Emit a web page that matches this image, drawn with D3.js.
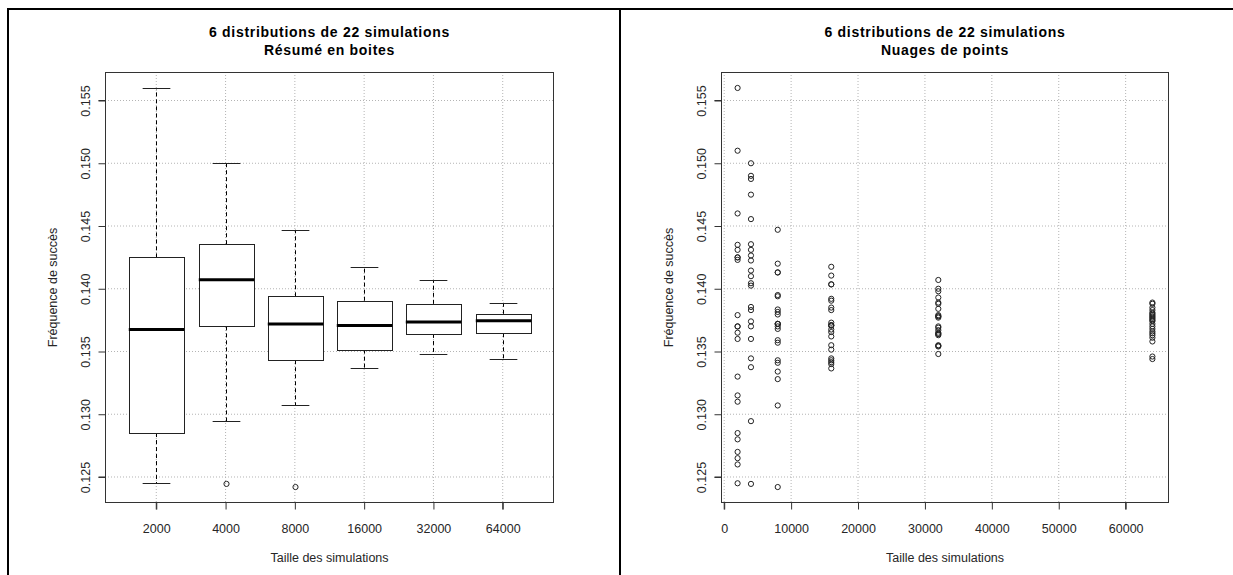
<!DOCTYPE html>
<html><head><meta charset="utf-8">
<script src="https://cdn.jsdelivr.net/npm/d3@7"></script>
<style>
html,body{margin:0;padding:0;background:#fff;}
text{font-family:"Liberation Sans",Arial,sans-serif;}
</style></head>
<body><svg id="c" width="1233" height="575"></svg>
<script>
// ---- data ----
const sizes = [2000, 4000, 8000, 16000, 32000, 64000];
const sizeLabels = ["2000", "4000", "8000", "16000", "32000", "64000"];
const sim2000 = [0.1560, 0.1510, 0.1460, 0.1435, 0.1431, 0.1425, 0.1425, 0.1423, 0.1379, 0.1370, 0.1370, 0.1365, 0.1360, 0.1330, 0.1315, 0.1310, 0.1285, 0.1280, 0.1270, 0.1265, 0.1260, 0.1245];
const sim4000 = [0.1500, 0.1490, 0.14875, 0.1475, 0.14555, 0.14355, 0.1431, 0.14265, 0.14225, 0.14145, 0.1410, 0.14044, 0.14025, 0.13855, 0.1383, 0.1374, 0.1370, 0.1360, 0.13445, 0.13375, 0.12945, 0.12445];
const sim8000 = [0.1447, 0.1420, 0.1413, 0.1413, 0.1395, 0.1394, 0.13835, 0.13815, 0.13795, 0.1372, 0.1372, 0.1372, 0.1370, 0.1368, 0.1359, 0.1357, 0.1343, 0.1341, 0.1334, 0.1328, 0.1307, 0.1242];
const sim16000 = [0.14175, 0.14105, 0.14035, 0.14035, 0.1392, 0.13905, 0.1385, 0.1383, 0.1373, 0.1371, 0.1371, 0.13705, 0.13675, 0.13655, 0.1362, 0.1355, 0.13515, 0.13445, 0.1343, 0.13415, 0.1340, 0.13365];
const sim32000 = [0.1407, 0.1400, 0.1398, 0.1393, 0.1389, 0.1388, 0.1384, 0.1379, 0.1378, 0.1378, 0.1377, 0.1370, 0.1369, 0.1367, 0.1365, 0.1364, 0.1364, 0.1363, 0.1355, 0.13545, 0.1354, 0.1348];
const sim64000 = [0.1389, 0.1388, 0.1385, 0.1383, 0.1381, 0.1380, 0.1379, 0.1378, 0.1377, 0.1376, 0.1375, 0.13742, 0.1372, 0.1370, 0.1368, 0.1366, 0.13645, 0.1363, 0.1361, 0.1358, 0.1346, 0.1344];
const series = [sim2000, sim4000, sim8000, sim16000, sim32000, sim64000];
const yTicks = [0.125, 0.130, 0.135, 0.140, 0.145, 0.150, 0.155];
const xTicksRight = [0, 10000, 20000, 30000, 40000, 50000, 60000];
const title1 = "6 distributions de 22 simulations";
const subLeft = "Résumé en boites";
const subRight = "Nuages de points";
const xLabel = "Taille des simulations";
const yLabel = "Fréquence de succès";

// ---- helpers ----
function fivenum(a){
  const x = a.slice().sort((p,q)=>p-q), n = x.length;
  const n4 = Math.floor((n+3)/2)/2;
  return [1, n4, (n+1)/2, n+1-n4, n].map(v => 0.5*(x[Math.floor(v)-1] + x[Math.ceil(v)-1]));
}
function boxStats(a){
  const f = fivenum(a), iqr = f[3]-f[1];
  const lo = f[1]-1.5*iqr, hi = f[3]+1.5*iqr;
  const inside = a.filter(v => v >= lo && v <= hi);
  return {q1:f[1], med:f[2], q3:f[3], wlo:d3.min(inside), whi:d3.max(inside), out:a.filter(v => v < lo || v > hi)};
}

const svg = d3.select("#c");
const allVals = series.flat();
const ext = d3.extent(allVals), pad = (ext[1]-ext[0])*0.04;
const plotTop = 72, plotBottom = 503;
const y = d3.scaleLinear().domain([ext[0]-pad, ext[1]+pad]).range([plotBottom, plotTop]);
const gridCol = "#b4b4b4", frameCol = "#333", textCol = "#262626";
const axisFont = 12.5;

// panel borders
svg.append("rect").attr("x",8).attr("y",9).attr("width",612).attr("height",580)
  .attr("fill","none").attr("stroke","#000").attr("stroke-width",2);
svg.append("rect").attr("x",620).attr("y",9).attr("width",620).attr("height",580)
  .attr("fill","none").attr("stroke","#000").attr("stroke-width",2);

function panel(x, xTickVals, xTickFmt, sub, drawMarks){
  const [x0, x1] = x.range();
  const g = svg.append("g");
  const cx = (x0+x1)/2;
  // grid
  g.selectAll(".gy").data(yTicks).join("line")
    .attr("x1",x0).attr("x2",x1).attr("y1",d=>y(d)).attr("y2",d=>y(d))
    .attr("stroke",gridCol).attr("stroke-dasharray","1,2");
  g.selectAll(".gx").data(xTickVals).join("line")
    .attr("x1",d=>x(d)).attr("x2",d=>x(d)).attr("y1",plotTop).attr("y2",plotBottom)
    .attr("stroke",gridCol).attr("stroke-dasharray","1,2");
  drawMarks(g);
  // frame
  g.append("rect").attr("x",x0+0.5).attr("y",plotTop+0.5).attr("width",x1-x0-1).attr("height",plotBottom-plotTop-1)
    .attr("fill","none").attr("stroke",frameCol).attr("stroke-width",1);
  // y axis
  const ya = d3.axisLeft(y).tickValues(yTicks).tickSize(7).tickFormat(d3.format(".3f"));
  const yg = g.append("g").attr("transform",`translate(${x0+0.5},0)`).call(ya);
  yg.select(".domain").attr("d",`M-7,${y(yTicks[0])}H0V${y(yTicks[yTicks.length-1])}H-7`).attr("stroke",frameCol).attr("fill","none");
  yg.selectAll(".tick line").attr("stroke",frameCol);
  yg.selectAll(".tick text").attr("transform","rotate(-90)").attr("x",0).attr("y",-16)
    .attr("dy",0).attr("text-anchor","middle").attr("font-size",axisFont).attr("fill",textCol);
  // x axis
  const xa = d3.axisBottom(x).tickValues(xTickVals).tickSize(7).tickFormat(xTickFmt);
  const xg = g.append("g").attr("transform",`translate(0,${plotBottom-0.5})`).call(xa);
  xg.select(".domain").attr("d",`M${x(xTickVals[0])},7V0H${x(xTickVals[xTickVals.length-1])}V7`).attr("stroke",frameCol).attr("fill","none");
  xg.selectAll(".tick line").attr("stroke",frameCol);
  xg.selectAll(".tick text").attr("y",30).attr("dy",0).attr("font-size",axisFont).attr("fill",textCol);
  // titles
  g.append("text").attr("x",cx).attr("y",37).attr("text-anchor","middle").attr("font-size",14)
    .attr("letter-spacing","0.7px").attr("font-weight","bold").text(title1);
  g.append("text").attr("x",cx).attr("y",55).attr("text-anchor","middle").attr("font-size",14)
    .attr("letter-spacing","0.7px").attr("font-weight","bold").text(sub);
  g.append("text").attr("x",cx).attr("y",562).attr("text-anchor","middle").attr("font-size",axisFont).attr("fill",textCol).text(xLabel);
  g.append("text").attr("transform",`translate(${x0-48},${(plotTop+plotBottom)/2}) rotate(-90)`)
    .attr("text-anchor","middle").attr("font-size",axisFont).attr("fill",textCol).text(yLabel);
}

// left: boxplots
const xb = d3.scaleLinear().domain([0.26, 6.74]).range([105, 554]);
const idx = sizes.map((s,i)=>i+1);
panel(xb, idx, (d)=>sizeLabels[d-1], subLeft, g=>{
  const unit = xb(2)-xb(1), bw = unit*0.8, cw = bw*0.5;
  series.forEach((vals,i)=>{
    const s = boxStats(vals), c = Math.round(xb(i+1))+0.5;
    const bg = g.append("g");
    bg.append("line").attr("x1",c).attr("x2",c).attr("y1",y(s.q3)).attr("y2",y(s.whi)).attr("stroke","#000").attr("stroke-dasharray","4,3");
    bg.append("line").attr("x1",c).attr("x2",c).attr("y1",y(s.q1)).attr("y2",y(s.wlo)).attr("stroke","#000").attr("stroke-dasharray","4,3");
    bg.append("line").attr("x1",c-cw/2).attr("x2",c+cw/2).attr("y1",Math.round(y(s.whi))+0.5).attr("y2",Math.round(y(s.whi))+0.5).attr("stroke","#222");
    bg.append("line").attr("x1",c-cw/2).attr("x2",c+cw/2).attr("y1",Math.round(y(s.wlo))+0.5).attr("y2",Math.round(y(s.wlo))+0.5).attr("stroke","#222");
    bg.append("rect").attr("x",Math.round(c-bw/2)+0.5).attr("y",Math.round(y(s.q3))+0.5)
      .attr("width",Math.round(bw)).attr("height",Math.round(y(s.q1)-y(s.q3)))
      .attr("fill","#fff").attr("stroke","#222");
    bg.append("line").attr("x1",c-bw/2).attr("x2",c+bw/2).attr("y1",y(s.med)).attr("y2",y(s.med)).attr("stroke","#000").attr("stroke-width",3);
    bg.selectAll("circle").data(s.out).join("circle").attr("cx",c).attr("cy",d=>y(d)).attr("r",2.6)
      .attr("fill","none").attr("stroke","#222");
  });
});

// right: scatter
const xs = d3.scaleLinear().domain([sizes[0]-(sizes[5]-sizes[0])*0.04, sizes[5]+(sizes[5]-sizes[0])*0.04]).range([721, 1169]);
panel(xs, xTicksRight, d3.format("d"), subRight, g=>{
  const pts = series.flatMap((vals,i)=>vals.map(v=>({x:sizes[i], v})));
  g.selectAll("circle").data(pts).join("circle").attr("cx",d=>xs(d.x)).attr("cy",d=>y(d.v)).attr("r",2.6)
    .attr("fill","none").attr("stroke","#222");
});
</script></body></html>
